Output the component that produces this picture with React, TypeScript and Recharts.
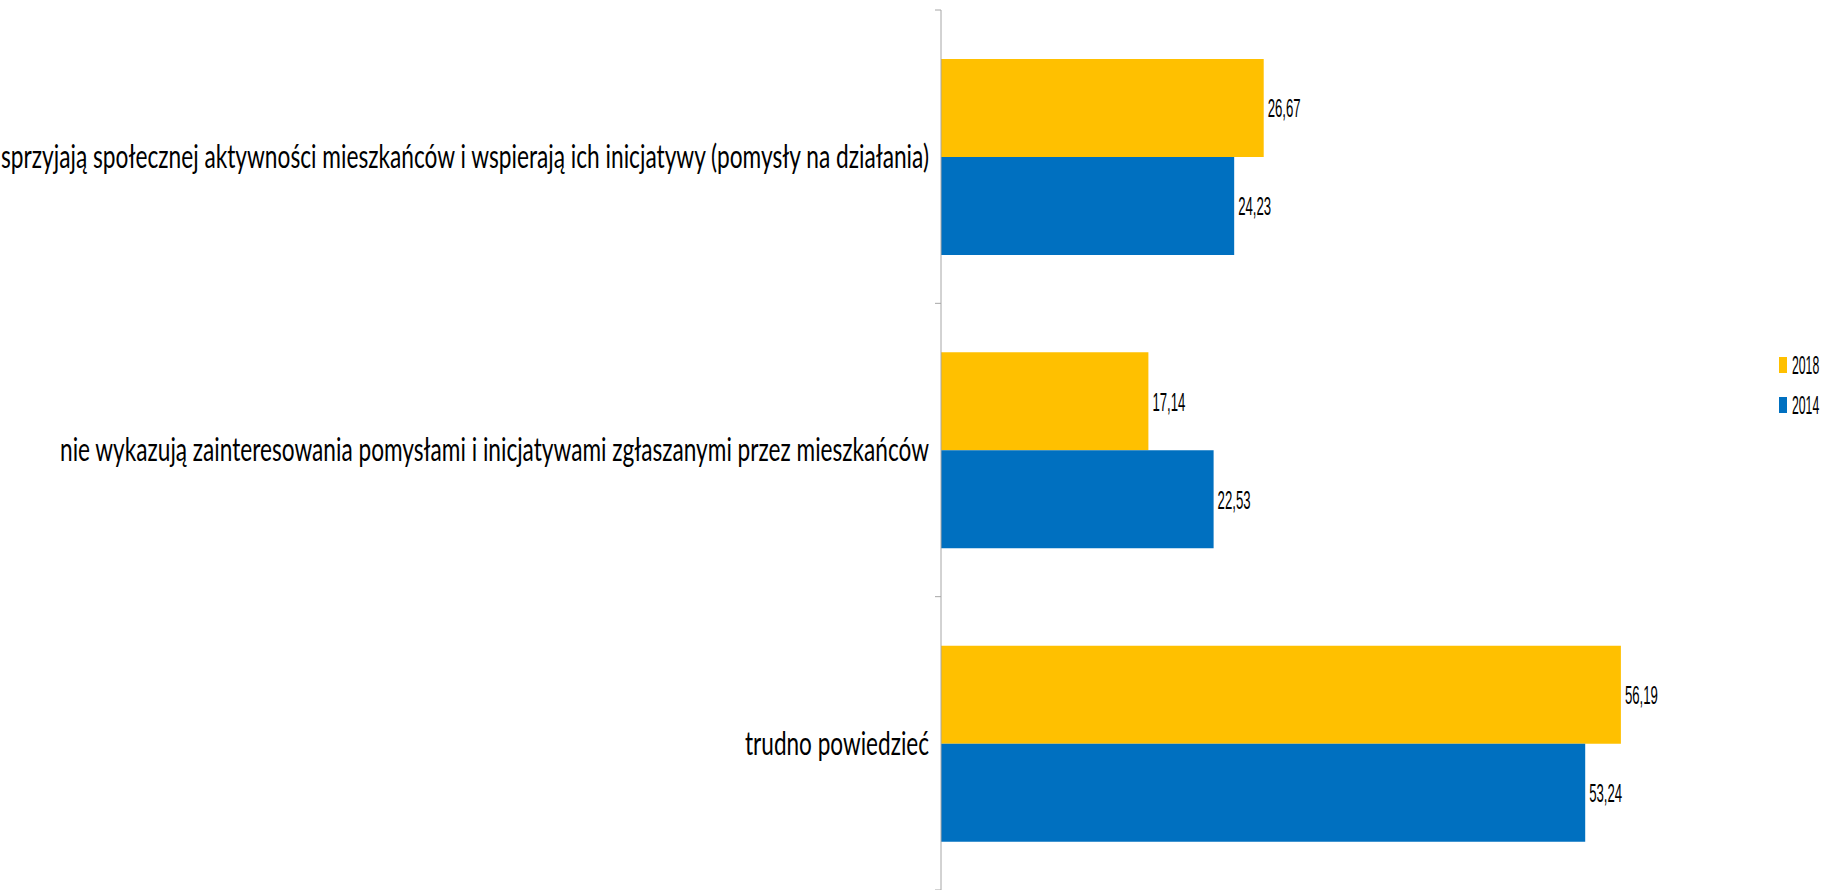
import React from "react";

// Library
import { BarChart, Bar, XAxis, YAxis, LabelList } from "recharts";

const categories = [
  "sprzyjają społecznej aktywności mieszkańców i wspierają ich inicjatywy (pomysły na działania)",
  "nie wykazują zainteresowania pomysłami i inicjatywami zgłaszanymi przez mieszkańców",
  "trudno powiedzieć",
];
const values2018 = [26.67, 17.14, 56.19];
const values2014 = [24.23, 22.53, 53.24];
const seriesNames = ["2018", "2014"];
const seriesColors = ["#FFC000", "#0070C0"];

// label widths as squeezed in the original (narrow font)
const labelWidths = [928, 869, 184];

const data = categories.map((name, i) => ({
  name,
  y2018: values2018[i],
  y2014: values2014[i],
}));

const fmt = (v: number) => v.toFixed(2).replace(".", ",");

function CategoryTick(props: any) {
  const { x, y, payload, index } = props;
  const axisX = x + 12;
  const half = payload && payload.offset ? payload.offset : 880 / 6;
  return (
    <g>
      <text
        x={x}
        y={y}
        dy="0.35em"
        textAnchor="end"
        fontFamily="Lato, 'Open Sans', sans-serif"
        fontSize={32}
        fill="#000"
        textLength={labelWidths[index]}
        lengthAdjust="spacingAndGlyphs"
      >
        {payload.value}
      </text>
      <line x1={axisX - 6} x2={axisX} y1={y - half} y2={y - half} stroke="#A6A6A6" />
      {index === categories.length - 1 && (
        <line x1={axisX - 6} x2={axisX} y1={y + half} y2={y + half} stroke="#A6A6A6" />
      )}
    </g>
  );
}

function ValueLabel(props: any) {
  const { x, y, width, height, value } = props;
  return (
    <text
      x={x + width + 4}
      y={y + height / 2}
      dy="0.36em"
      fontFamily="'Liberation Sans', Arial, sans-serif"
      fontSize={26}
      fill="#000"
      textLength={33}
      lengthAdjust="spacingAndGlyphs"
    >
      {fmt(value)}
    </text>
  );
}

function LegendBox() {
  return (
    <svg width={54} height={70} style={{ position: "absolute", left: 1778, top: 350 }}>
      {seriesNames.map((s, i) => (
        <g key={s}>
          <rect x={1} y={7 + i * 40} width={8} height={16} fill={seriesColors[i]} />
          <text
            transform={`translate(14, ${15 + i * 40}) scale(0.49, 1)`}
            dy="0.36em"
            fontFamily="'Liberation Sans', Arial, sans-serif"
            fontSize={25}
            fill="#000"
          >
            {s}
          </text>
        </g>
      ))}
    </svg>
  );
}

function App() {
  return (
    <div style={{ position: "absolute", left: 0, top: 0, width: 1832, height: 890 }}>
      <BarChart
        width={1832}
        height={890}
        data={data}
        layout="vertical"
        margin={{ top: 10, right: 165, bottom: 0, left: 0 }}
        barCategoryGap={49}
        barGap={0}
      >
        <XAxis type="number" domain={[0, 60]} hide />
        <YAxis
          type="category"
          dataKey="name"
          width={941}
          axisLine={{ stroke: "#A6A6A6" }}
          tickLine={false}
          tickSize={0}
          tickMargin={12}
          tick={<CategoryTick />}
          interval={0}
        />
        <Bar dataKey="y2018" name={seriesNames[0]} fill={seriesColors[0]} isAnimationActive={false}>
          <LabelList dataKey="y2018" content={<ValueLabel />} />
        </Bar>
        <Bar dataKey="y2014" name={seriesNames[1]} fill={seriesColors[1]} isAnimationActive={false}>
          <LabelList dataKey="y2014" content={<ValueLabel />} />
        </Bar>
      </BarChart>
      <LegendBox />
    </div>
  );
}

export default App;
